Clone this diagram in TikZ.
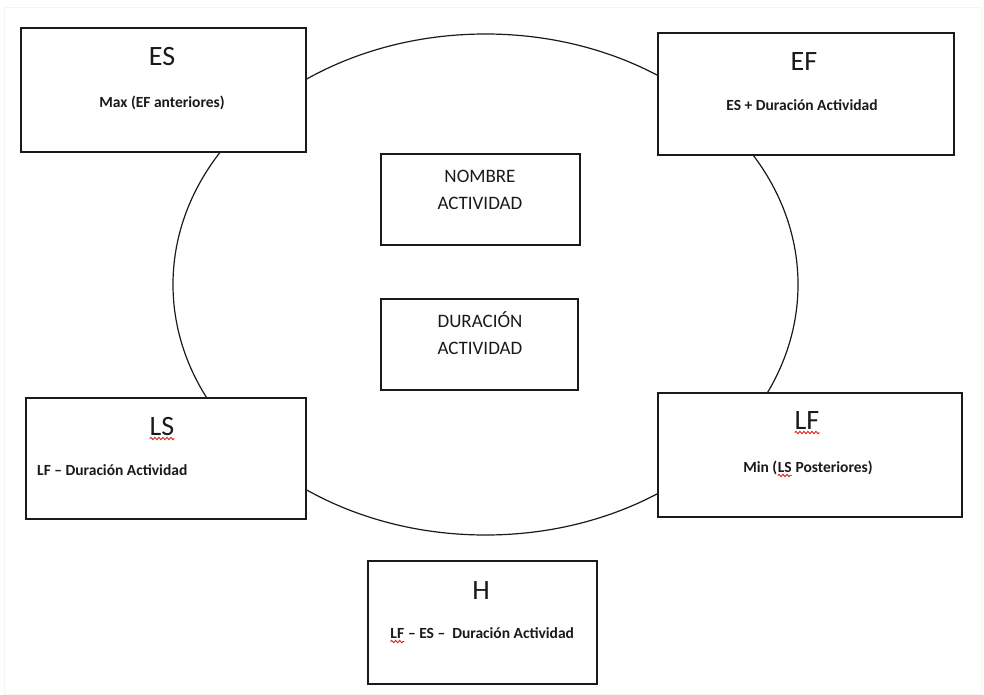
\documentclass[tikz,border=0pt]{standalone}
\usepackage{fontspec}
\setmainfont{Carlito}
\usepackage{tikz}
\usetikzlibrary{positioning,decorations.pathmorphing}
\definecolor{ink}{HTML}{1A1A1A}
\definecolor{frame}{HTML}{F4F4F4}
\definecolor{spell}{HTML}{E02020}
\newcommand{\titlefont}{\fontsize{28}{32}\selectfont}
\newcommand{\subfont}{\fontsize{15.5}{18}\selectfont\bfseries}
\newcommand{\midfont}{\fontsize{19}{27}\selectfont}
\newcommand{\redwave}[1]{\tikz[baseline=(w.base)]{\node[anchor=base, inner sep=0pt, outer sep=0pt] (w) {#1};
  \draw[spell, line width=0.9pt, decorate, decoration={snake, segment length=4pt, amplitude=1.2pt}]
    ([yshift=-3.5pt]w.base west) -- ([yshift=-3.5pt]w.base east);}}
\tikzset{
  box/.style={draw=ink, line width=1.3pt, fill=white, inner sep=0pt},
  title/.style={anchor=base, inner sep=0pt, font=\titlefont, text=ink},
  sub/.style={anchor=base, inner sep=0pt, font=\subfont, text=ink},
  mid/.style={anchor=base, inner sep=0pt, font=\midfont, text=ink, align=center}
}
\begin{document}
\begin{tikzpicture}[x=1pt, y=-1pt, line cap=round]
  \useasboundingbox (0,0) rectangle (984,695);
  \draw[frame, line width=0.8pt] (4,7.5) rectangle (981,694);
  % activity ellipse behind the boxes
  \draw[ink, line width=1.2pt] (485.5,284.5) ellipse [x radius=312.5, y radius=250.5];
  % corner boxes
  \node[box, minimum width=285, minimum height=124] (es) at (163.5,90) {};
  \node[box, minimum width=296, minimum height=122] (ef) at (806,94) {};
  \node[box, minimum width=280, minimum height=121] (ls) at (166,458.5) {};
  \node[box, minimum width=304, minimum height=124] (lf) at (810,455) {};
  \node[box, minimum width=229, minimum height=123] (h) at (482.5,622.5) {};
  % centre boxes
  \node[box, minimum width=199, minimum height=91] (nombre) at (480.5,199.5) {};
  \node[box, minimum width=197, minimum height=91] (duracion) at (479.5,344.5) {};
  % texts
  \node[title] (es-t) at (162,66) {ES};
  \node[sub] (es-s) at (162,108) {Max (EF anteriores)};
  \node[title] (ef-t) at (804,71) {EF};
  \node[sub] (ef-s) at (802,111) {ES + Duración Actividad};
  \node[title] (ls-t) at (162,435) {\redwave{LS}};
  \node[sub, anchor=base west] (ls-s) at (37,475) {LF – Duración Actividad};
  \node[title] (lf-t) at (807,429) {\redwave{LF}};
  \node[sub] (lf-s) at (808,472) {Min (\redwave{LS} Posteriores)};
  \node[title] (h-t) at (481,599) {H};
  \node[sub] (h-s) at (482,638) {\redwave{LF} – ES –\ \ Duración Actividad};
  \node[mid] (nombre-t) at (480,209) {NOMBRE\\ACTIVIDAD};
  \node[mid] (duracion-t) at (480,354) {DURACIÓN\\ACTIVIDAD};
\end{tikzpicture}
\end{document}
